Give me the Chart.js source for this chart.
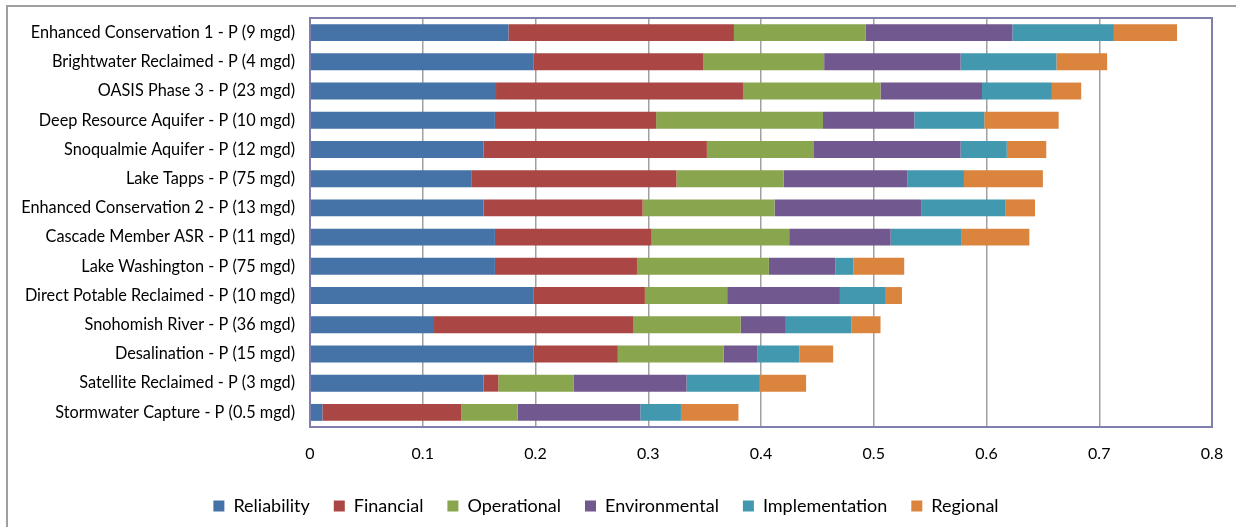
<!DOCTYPE html>
<html>
<head>
<meta charset="utf-8">
<script src="https://cdn.jsdelivr.net/npm/chart.js@4/dist/chart.umd.min.js"></script>
<style>
  html, body { margin: 0; padding: 0; background: #fff; }
  #wrap { width: 1236px; height: 527px; position: relative; }
</style>
</head>
<body>
<div id="wrap"><canvas id="chart" width="1236" height="527"></canvas></div>
<script>
const categories = [
    'Enhanced Conservation 1 - P (9 mgd)',
    'Brightwater Reclaimed - P (4 mgd)',
    'OASIS Phase 3 - P (23 mgd)',
    'Deep Resource Aquifer - P (10 mgd)',
    'Snoqualmie Aquifer - P (12 mgd)',
    'Lake Tapps - P (75 mgd)',
    'Enhanced Conservation 2 - P (13 mgd)',
    'Cascade Member ASR - P (11 mgd)',
    'Lake Washington - P (75 mgd)',
    'Direct Potable Reclaimed - P (10 mgd)',
    'Snohomish River - P (36 mgd)',
    'Desalination - P (15 mgd)',
    'Satellite Reclaimed - P (3 mgd)',
    'Stormwater Capture - P (0.5 mgd)'
];

const reliability    = [0.176, 0.198, 0.165, 0.164, 0.154, 0.143, 0.154, 0.164, 0.164, 0.198, 0.110, 0.198, 0.154, 0.011];
const financial      = [0.200, 0.151, 0.219, 0.143, 0.198, 0.182, 0.141, 0.139, 0.126, 0.099, 0.177, 0.075, 0.013, 0.123];
const operational    = [0.117, 0.107, 0.122, 0.148, 0.095, 0.095, 0.117, 0.122, 0.117, 0.073, 0.095, 0.094, 0.067, 0.050];
const environmental  = [0.130, 0.121, 0.090, 0.081, 0.130, 0.110, 0.130, 0.090, 0.059, 0.100, 0.040, 0.030, 0.100, 0.109];
const implementation = [0.090, 0.085, 0.062, 0.062, 0.041, 0.050, 0.075, 0.063, 0.016, 0.040, 0.058, 0.037, 0.065, 0.036];
const regional       = [0.056, 0.045, 0.026, 0.066, 0.035, 0.070, 0.026, 0.060, 0.045, 0.015, 0.026, 0.030, 0.041, 0.051];

const xTicks = [0, 0.1, 0.2, 0.3, 0.4, 0.5, 0.6, 0.7, 0.8];

const FONT = 'Lato, "Open Sans", sans-serif';

// gray outer frame + purple plot area border
const framePlugin = {
    id: 'frame',
    beforeDraw(chart) {
        const c = chart.ctx;
        c.save();
        c.strokeStyle = '#a0a0a0';
        c.lineWidth = 2;
        c.beginPath();
        c.moveTo(7, 527);
        c.lineTo(7, 6);
        c.lineTo(1236, 6);
        c.stroke();
        c.restore();
    },
    afterDraw(chart) {
        const a = chart.chartArea;
        const c = chart.ctx;
        c.save();
        c.strokeStyle = '#7f7fad';
        c.lineWidth = 2;
        c.strokeRect(a.left, a.top, a.right - a.left, a.bottom - a.top);
        c.restore();
    }
};

const mk = (label, data, color) => ({
    label: label,
    data: data,
    backgroundColor: color,
    borderWidth: 0,
    categoryPercentage: 1,
    barPercentage: 0.58,
});

new Chart(document.getElementById('chart').getContext('2d'), {
    type: 'bar',
    data: {
        labels: categories,
        datasets: [
            mk('Reliability', reliability, '#4572a7'),
            mk('Financial', financial, '#aa4643'),
            mk('Operational', operational, '#89a54e'),
            mk('Environmental', environmental, '#71588f'),
            mk('Implementation', implementation, '#4198af'),
            mk('Regional', regional, '#db843d'),
        ],
    },
    options: {
        indexAxis: 'y',
        responsive: false,
        animation: false,
        layout: { padding: { top: 18, right: 24, left: 0, bottom: 2 } },
        plugins: {
            tooltip: { enabled: false },
            legend: {
                position: 'bottom',
                labels: {
                    font: { family: FONT, size: 18 },
                    color: '#000',
                    boxWidth: 11,
                    boxHeight: 11,
                    padding: 24,
                },
            },
        },
        scales: {
            x: {
                stacked: true,
                min: 0,
                max: 0.8,
                afterBuildTicks: s => { s.ticks = xTicks.map(v => ({ value: v })); },
                afterFit: s => { s.height = 46; s.paddingLeft = 0; s.paddingRight = 0; },
                grid: { color: '#a0a0a0', lineWidth: 1.5, drawTicks: false },
                border: { display: false },
                ticks: {
                    padding: 17,
                    color: '#000',
                    font: { family: FONT, size: 16 },
                    callback: v => String(v),
                },
            },
            y: {
                stacked: true,
                afterFit: s => { s.width = 310; s.paddingTop = 0; s.paddingBottom = 0; },
                grid: { display: false, drawTicks: false },
                border: { display: false },
                ticks: {
                    padding: 15,
                    color: '#000',
                    font: { family: FONT, size: 16.3 },
                    autoSkip: false,
                },
            },
        },
    },
    plugins: [framePlugin],
});
</script>
</body>
</html>
